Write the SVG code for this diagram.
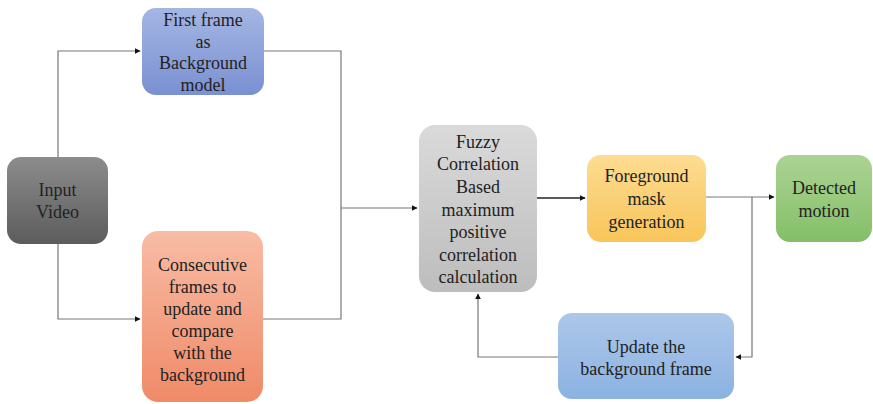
<svg xmlns="http://www.w3.org/2000/svg" width="873" height="404" viewBox="0 0 873 404">
  <style>
    .lbl { font-family: "Liberation Serif", "Times New Roman", serif; font-size: 18px; fill: #222; text-anchor: middle; }
    .wire { fill: none; stroke: #777; stroke-width: 1.2; }
    .wire-dark { fill: none; stroke: #222; stroke-width: 1.4; }
  </style>
  <defs>
    <marker id="arrow" viewBox="0 0 10 10" refX="9" refY="5" markerWidth="6" markerHeight="6" orient="auto" markerUnits="userSpaceOnUse">
      <path d="M0,0 L10,5 L0,10 Z" fill="#111"/>
    </marker>
    <linearGradient id="gBlue" x1="0" y1="0" x2="0" y2="1">
      <stop offset="0" stop-color="#a5b6e3"/><stop offset="1" stop-color="#7990d2"/>
    </linearGradient>
    <linearGradient id="gDark" x1="0" y1="0" x2="0" y2="1">
      <stop offset="0" stop-color="#8c8c8c"/><stop offset="1" stop-color="#5c5c5c"/>
    </linearGradient>
    <linearGradient id="gSalmon" x1="0" y1="0" x2="0" y2="1">
      <stop offset="0" stop-color="#f8bca4"/><stop offset="1" stop-color="#f08a68"/>
    </linearGradient>
    <linearGradient id="gGray" x1="0" y1="0" x2="0" y2="1">
      <stop offset="0" stop-color="#dadada"/><stop offset="1" stop-color="#bdbdbd"/>
    </linearGradient>
    <linearGradient id="gYellow" x1="0" y1="0" x2="0" y2="1">
      <stop offset="0" stop-color="#fddc92"/><stop offset="1" stop-color="#f8c55a"/>
    </linearGradient>
    <linearGradient id="gGreen" x1="0" y1="0" x2="0" y2="1">
      <stop offset="0" stop-color="#acd393"/><stop offset="1" stop-color="#84bf68"/>
    </linearGradient>
    <linearGradient id="gSky" x1="0" y1="0" x2="0" y2="1">
      <stop offset="0" stop-color="#adc7ea"/><stop offset="1" stop-color="#8bb2e1"/>
    </linearGradient>
  </defs>

  <g id="connectors">
    <!-- input splits to the two source branches -->
    <path class="wire" d="M58,157 V51 H140" marker-end="url(#arrow)"/>
    <path class="wire" d="M58,244 V319 H140" marker-end="url(#arrow)"/>
    <!-- both branches merge into the correlation stage -->
    <path class="wire" d="M264,51 H341 V319 H263"/>
    <path class="wire" d="M341,208 H417" marker-end="url(#arrow)"/>
    <!-- correlation to mask generation -->
    <path class="wire-dark" d="M537,198 H585" marker-end="url(#arrow)"/>
    <!-- mask to detected motion, with a feedback branch -->
    <path class="wire" d="M706,197 H774" marker-end="url(#arrow)"/>
    <path class="wire" d="M752,197 V357 H736" marker-end="url(#arrow)"/>
    <path class="wire" d="M558,357 H478 V294" marker-end="url(#arrow)"/>
  </g>

  <g id="first-frame">
    <rect x="142" y="8" width="122" height="87" rx="14" fill="url(#gBlue)"/>
    <text class="lbl" x="203" y="26">First frame</text>
    <text class="lbl" x="203" y="48">as</text>
    <text class="lbl" x="203" y="69">Background</text>
    <text class="lbl" x="203" y="91">model</text>
  </g>

  <g id="input-video">
    <rect x="7" y="157" width="101" height="87" rx="14" fill="url(#gDark)"/>
    <text class="lbl" x="57.5" y="196">Input</text>
    <text class="lbl" x="57.5" y="218">Video</text>
  </g>

  <g id="consecutive-frames">
    <rect x="142" y="231" width="121" height="171" rx="16" fill="url(#gSalmon)"/>
    <text class="lbl" x="202.5" y="271">Consecutive</text>
    <text class="lbl" x="202.5" y="293">frames to</text>
    <text class="lbl" x="202.5" y="315">update and</text>
    <text class="lbl" x="202.5" y="337">compare</text>
    <text class="lbl" x="202.5" y="359">with the</text>
    <text class="lbl" x="202.5" y="381">background</text>
  </g>

  <g id="fuzzy-correlation">
    <rect x="419" y="125" width="118" height="167" rx="16" fill="url(#gGray)"/>
    <text class="lbl" x="478" y="148">Fuzzy</text>
    <text class="lbl" x="478" y="170">Correlation</text>
    <text class="lbl" x="478" y="193">Based</text>
    <text class="lbl" x="478" y="216">maximum</text>
    <text class="lbl" x="478" y="238">positive</text>
    <text class="lbl" x="478" y="261">correlation</text>
    <text class="lbl" x="478" y="283">calculation</text>
  </g>

  <g id="foreground-mask">
    <rect x="587" y="155" width="119" height="87" rx="14" fill="url(#gYellow)"/>
    <text class="lbl" x="646.5" y="182">Foreground</text>
    <text class="lbl" x="646.5" y="205">mask</text>
    <text class="lbl" x="646.5" y="228">generation</text>
  </g>

  <g id="detected-motion">
    <rect x="776" y="155" width="96" height="87" rx="14" fill="url(#gGreen)"/>
    <text class="lbl" x="824" y="194">Detected</text>
    <text class="lbl" x="824" y="217">motion</text>
  </g>

  <g id="update-background">
    <rect x="558" y="313" width="176" height="86" rx="14" fill="url(#gSky)"/>
    <text class="lbl" x="646" y="353">Update the</text>
    <text class="lbl" x="646" y="375">background frame</text>
  </g>
</svg>
